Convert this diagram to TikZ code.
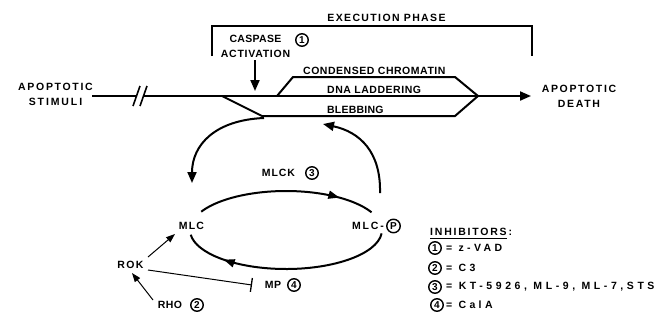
\documentclass[tikz,border=0pt]{standalone}
\usepackage{fontspec}
\setmainfont{Liberation Sans}
\usetikzlibrary{arrows.meta,decorations.markings}
\newcommand\lsp[1]{\addfontfeature{LetterSpace=#1}}
\begin{document}
\begin{tikzpicture}[x=1pt,y=-1pt,
  lbl/.style={font=\bfseries\fontsize{10.5}{15}\selectfont, inner sep=0pt, align=center},
  num/.style={circle,draw,line width=1.4pt,minimum size=12.5pt,inner sep=0pt,font=\bfseries\fontsize{10}{10}\selectfont},
  ln/.style={line width=2pt},
  thin/.style={line width=1pt},
  arr/.style={-{Triangle[length=11pt,width=9pt]}},
  sarr/.style={-{Triangle[length=9pt,width=6.5pt]}},
  midarr/.style={postaction={decorate},decoration={markings,mark=at position #1 with {\arrow{Triangle[length=11pt,width=8pt]}}}}
]
\useasboundingbox (0,0) rectangle (655,322);

% --- top row labels
\node[lbl] (stim) at (55.5,94.5) {\lsp{16}APOPTOTIC\\\lsp{18}STIMULI};
\node[lbl] (death) at (579,96) {\lsp{16}APOPTOTIC\\\lsp{16}DEATH};
\node[lbl] (exec) at (386.5,18) {\lsp{13}EXECUTION PHASE};
\node[lbl] (casp) at (255.5,46.5) {\lsp{3}CASPASE\\\lsp{7}ACTIVATION};
\node[num] (c1) at (302,40) {1};

% execution bracket
\coordinate (eb1) at (212,56);
\coordinate (eb2) at (532,56);
\draw[ln] (eb1) -- (212,26) -- (532,26) -- (eb2);

% main line with break
\coordinate (m0) at (92,96);
\coordinate (mbreakA) at (136.5,96);
\coordinate (mbreakB) at (143.5,96);
\coordinate (join) at (478,96);
\coordinate (mend) at (531,96);
\draw[ln] (m0) -- (mbreakA);
\draw[ln] (mbreakB) -- (join);
\draw[ln,arr] (join) -- (mend);
\draw[line width=1.6pt] (133,106) -- (140,86);
\draw[line width=1.6pt] (140,106) -- (147,86);

% caspase arrow
\coordinate (catip) at (255,91);
\draw[ln,arr] (255,60) -- (catip);

% branches
\draw[ln] (277,96) -- (293,77) -- (455,77) -- (join);
\draw[ln] (222,96) -- (262,116) -- (455,116) -- (join);
\node[lbl,anchor=west] (chrom) at (303,71) {\lsp{5}CONDENSED CHROMATIN};
\node[lbl,anchor=west] (dna) at (327,89.5) {\lsp{5}DNA LADDERING};
\node[lbl,anchor=west] (bleb) at (327,109.5) {\lsp{2}BLEBBING};

% --- cycle
\node[lbl] (mlc) at (191.5,226) {\lsp{11}MLC};
\node[lbl,anchor=east] (mlcp) at (384,226) {\lsp{17}MLC-};
\node[num,minimum size=13.5pt] (P) at (393.5,226) {P};
\node[lbl] (mlck) at (278.5,173) {\lsp{9}MLCK};
\node[num] (c3) at (312,173) {3};

\draw[ln,midarr=0.8] (286,230) ++(-152:96 and 39) arc[start angle=-152,end angle=-27,x radius=96,y radius=39];
\draw[ln,midarr=0.8] (286,230) ++(5:96 and 39) arc[start angle=5,end angle=173,x radius=96,y radius=39];

% big feedback arcs
\coordinate (la0) at (264,118);
\coordinate (latip) at (192,183);
\draw[ln,arr] (la0) .. controls (215,120) and (192,145) .. (latip);
\coordinate (ra0) at (380,193);
\coordinate (ratip) at (323,124);
\draw[ln,arr] (ra0) .. controls (381,152) and (360,132) .. (ratip);

% regulators
\node[lbl] (rok) at (130.5,265) {\lsp{13}ROK};
\node[lbl] (rho) at (170,305) {\lsp{4}RHO};
\node[num] (c2) at (197,305) {2};
\node[lbl] (mp) at (273,285) {\lsp{4}MP};
\node[num] (c4) at (294,285) {4};
\coordinate (mpbar) at (252,285);
\draw[thin,sarr] (148,257) -- (175,234);
\draw[thin,sarr] (153,300) -- (132,273);
\draw[thin,-{Bar[width=14pt,line width=1.3pt]}] (148,270) -- (mpbar);

% --- legend
\node[lbl,anchor=west] (inh) at (430,232) {\lsp{17}INHIBITORS:};
\draw[line width=1pt] (430,238.5) -- (507,238.5);
\node[num] (l1) at (435,248) {1};
\node[num] (l2) at (435,268) {2};
\node[num] (l3) at (435,287) {3};
\node[num] (l4) at (437,305) {4};
\node[lbl,anchor=west] (t1) at (446,248) {\lsp{32}= z-VAD};
\node[lbl,anchor=west] (t2) at (446,268) {\lsp{32}= C3};
\node[lbl,anchor=west] (t3) at (446,287) {\lsp{34}= KT-5926, ML-9, ML-7,STS};
\node[lbl,anchor=west] (t4) at (446,305) {\lsp{32}= CalA};
\end{tikzpicture}
\end{document}
